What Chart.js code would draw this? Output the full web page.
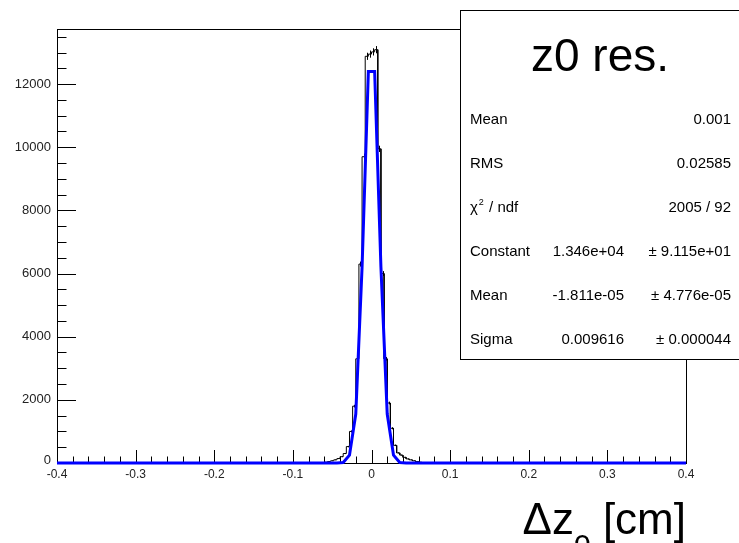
<!DOCTYPE html>
<html>
<head>
<meta charset="utf-8">
<title>z0 res.</title>
<script src="https://cdn.jsdelivr.net/npm/chart.js@4.4.1/dist/chart.umd.min.js"></script>
<style>
  html, body { margin: 0; padding: 0; background: #fff; }
  #wrap { width: 739px; height: 543px; }
</style>
</head>
<body>
<div id="wrap"><canvas id="resChart" width="739" height="543"></canvas></div>
<script>
// Histogram binning: 200 bins over [-0.4, 0.4] cm
const X_MIN = -0.4;
const X_MAX = 0.4;
const N_BINS = 200;
const Y_MAX = 13745;
// fit function is sampled at 100 points across the range
const FIT_NPX = 100;

// Axis ticks
const xTicks = [-0.4, -0.3, -0.2, -0.1, 0, 0.1, 0.2, 0.3, 0.4];
const xTickLabels = ['-0.4', '-0.3', '-0.2', '-0.1', '0', '0.1', '0.2', '0.3', '0.4'];
const yTicks = [0, 2000, 4000, 6000, 8000, 10000, 12000];
const yTickLabels = ['0', '2000', '4000', '6000', '8000', '10000', '12000'];

// Entries per bin, starting at bin countsFirstBin (every other bin is empty)
const countsFirstBin = 84;
const binCounts = [
    12, 25, 45, 70, 100, 140, 200, 300, 520, 1000, 1800, 3300, 6300, 9700, 12880, 12950,
    13020, 13090, 9950, 6000, 3300, 1900, 1100, 560, 320, 250, 180, 130, 100, 70, 45, 25, 12
];

// Gaussian fit values at its sample points, starting at fitFirstPoint
const fitFirstPoint = 44;
const fitValues = [0, 15, 250, 1550, 6200, 12400, 12400, 6200, 1550, 250, 15, 0];

// Stats box
const statTitle = 'z0 res.';
const statLabels = ['Mean', 'RMS', 'χ2 / ndf', 'Constant', 'Mean', 'Sigma'];
const statValues = ['0.001', '0.02585', '2005 / 92', '1.346e+04', '-1.811e-05', '0.009616'];
const statErrors = ['', '', '', '± 9.115e+01', '± 4.776e-05', '± 0.000044'];

const FONT = '"Liberation Sans", Arial, Helvetica, sans-serif';
const binWidth = (X_MAX - X_MIN) / N_BINS;
const fitStep = (X_MAX - X_MIN) / FIT_NPX;

function countAt(i) {
    const k = i - countsFirstBin;
    return (k >= 0 && k < binCounts.length) ? binCounts[k] : 0;
}

function fitAt(j) {
    const k = j - fitFirstPoint;
    return (k >= 0 && k < fitValues.length) ? fitValues[k] : 0;
}

// step outline of the histogram
const histPoints = [];
for (let i = 0; i < N_BINS; i++) {
    const lo = X_MIN + i * binWidth;
    histPoints.push({ x: lo, y: countAt(i) }, { x: lo + binWidth, y: countAt(i) });
}

// fit curve: straight segments between the sample points
const fitPoints = [{ x: X_MIN, y: 0 }];
for (let j = 0; j < FIT_NPX; j++) {
    fitPoints.push({ x: X_MIN + (j + 0.5) * fitStep, y: fitAt(j) });
}
fitPoints.push({ x: X_MAX, y: 0 });

const rootFrame = {
    id: 'rootFrame',
    beforeDatasetsDraw(chart) {
        const { ctx, chartArea: a, scales: { x, y } } = chart;
        ctx.save();
        ctx.strokeStyle = '#000';
        ctx.lineWidth = 1;

        // frame
        ctx.strokeRect(Math.round(a.left) + 0.5, Math.round(a.top) + 0.5,
            Math.round(a.right - a.left), Math.round(a.bottom - a.top));

        // y axis ticks, pointing into the frame
        ctx.beginPath();
        for (let v = 0; v <= Y_MAX; v += 500) {
            const py = Math.round(y.getPixelForValue(v)) + 0.5;
            const len = (v % 2000 === 0) ? 19 : 9.5;
            ctx.moveTo(a.left, py);
            ctx.lineTo(a.left + len, py);
        }
        // x axis ticks
        for (let k = 0; k <= 40; k++) {
            const v = X_MIN + k * 0.02;
            const px = Math.round(x.getPixelForValue(v)) + 0.5;
            const len = (k % 5 === 0) ? 13 : 6.5;
            ctx.moveTo(px, a.bottom);
            ctx.lineTo(px, a.bottom - len);
        }
        ctx.stroke();

        // sqrt(N) error bars at the bin centres
        ctx.beginPath();
        for (let i = 0; i < N_BINS; i++) {
            const n = countAt(i);
            if (n <= 0) continue;
            const px = Math.round(x.getPixelForValue(X_MIN + (i + 0.5) * binWidth)) + 0.5;
            ctx.moveTo(px, y.getPixelForValue(n - Math.sqrt(n)));
            ctx.lineTo(px, y.getPixelForValue(n + Math.sqrt(n)));
        }
        ctx.stroke();

        // tick labels
        ctx.fillStyle = '#222';
        ctx.font = '13px ' + FONT;
        ctx.textAlign = 'right';
        ctx.textBaseline = 'middle';
        yTicks.forEach((v, i) => {
            const py = y.getPixelForValue(v) - (v === 0 ? 3 : 0);
            ctx.fillText(yTickLabels[i], a.left - 6, py);
        });
        ctx.font = '12px ' + FONT;
        ctx.textAlign = 'center';
        xTicks.forEach((v, i) => {
            ctx.fillText(xTickLabels[i], x.getPixelForValue(v), a.bottom + 12);
        });
        ctx.restore();
    },
    afterDraw(chart) {
        const { ctx, chartArea: a } = chart;
        ctx.save();

        // axis title, right-aligned with the frame
        const big = '44px ' + FONT;
        const sub = '30px ' + FONT;
        ctx.font = big;
        const wDz = ctx.measureText('Δz').width;
        const wCm = ctx.measureText(' [cm]').width;
        ctx.font = sub;
        const w0 = ctx.measureText('0').width;
        let tx = a.right - (wDz + w0 + wCm);
        const base = 534;
        ctx.fillStyle = '#000';
        ctx.textAlign = 'left';
        ctx.textBaseline = 'alphabetic';
        ctx.font = big;
        ctx.fillText('Δz', tx, base);
        tx += wDz;
        ctx.font = sub;
        ctx.fillText('0', tx, base + 21);
        tx += w0;
        ctx.font = big;
        ctx.fillText(' [cm]', tx, base);

        // stats box
        const bx = 460.5, by = 10.5, bw = 290, bh = 349;
        ctx.fillStyle = '#fff';
        ctx.fillRect(bx, by, bw, bh);
        ctx.strokeStyle = '#000';
        ctx.lineWidth = 1;
        ctx.strokeRect(bx, by, bw, bh);

        ctx.fillStyle = '#000';
        ctx.textAlign = 'center';
        ctx.textBaseline = 'middle';
        ctx.font = '46px ' + FONT;
        ctx.fillText(statTitle, 600, 58);

        const rowFont = '15px ' + FONT;
        ctx.font = rowFont;
        statLabels.forEach((label, r) => {
            const ry = 120 + r * 44;
            ctx.textAlign = 'left';
            if (label.startsWith('χ2')) {
                ctx.fillText('χ', 470, ry);
                const wc = ctx.measureText('χ').width;
                ctx.font = '9px ' + FONT;
                ctx.fillText('2', 470 + wc + 1, ry - 5);
                ctx.font = rowFont;
                ctx.fillText(label.slice(2), 470 + wc + 7, ry);
            } else {
                ctx.fillText(label, 470, ry);
            }
            ctx.textAlign = 'right';
            if (statErrors[r]) {
                ctx.fillText(statValues[r], 624, ry);
                ctx.fillText(statErrors[r], 731, ry);
            } else {
                ctx.fillText(statValues[r], 731, ry);
            }
        });
        ctx.restore();
    }
};

new Chart(document.getElementById('resChart'), {
    type: 'line',
    data: {
        datasets: [
            {
                label: 'gaus fit',
                data: fitPoints,
                borderColor: '#0000ff',
                borderWidth: 3,
                pointRadius: 0,
                tension: 0,
                clip: false,
                order: 0
            },
            {
                label: 'z0 res.',
                data: histPoints,
                borderColor: '#000',
                borderWidth: 1,
                pointRadius: 0,
                tension: 0,
                order: 1
            }
        ]
    },
    options: {
        responsive: false,
        devicePixelRatio: 1,
        animation: false,
        events: [],
        layout: { padding: { left: 57, top: 29, right: 53, bottom: 80 } },
        scales: {
            x: { type: 'linear', min: X_MIN, max: X_MAX, display: false },
            y: { type: 'linear', min: 0, max: Y_MAX, display: false }
        },
        plugins: {
            legend: { display: false },
            tooltip: { enabled: false },
            title: { display: false }
        }
    },
    plugins: [rootFrame]
});
</script>
</body>
</html>
